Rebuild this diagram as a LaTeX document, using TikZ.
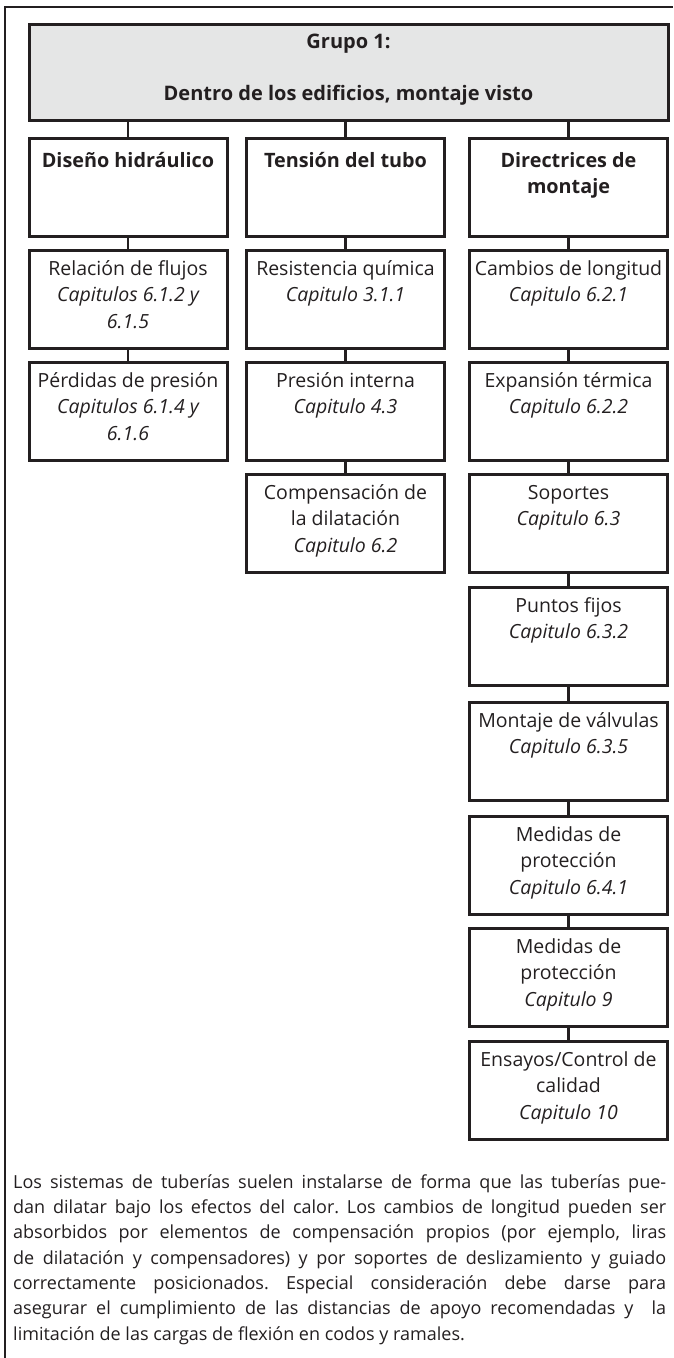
\documentclass[tikz,border=0pt]{standalone}
\usepackage{fontspec}
\setmainfont{Open Sans}
\definecolor{ink}{RGB}{35,31,32}
\definecolor{hdrfill}{RGB}{229,230,230}
\newcommand{\frst}[1][20pt]{\rule{0pt}{#1}}
\begin{document}
\begin{tikzpicture}[x=1pt,y=-1pt,
  boxshape/.style={draw=ink, line width=3pt, minimum width=198pt, minimum height=98pt, inner sep=0pt, outer sep=0pt},
  hdrbox/.style={boxshape, fill=hdrfill, minimum width=639pt, minimum height=96pt},
  boxtext/.style={anchor=north, align=center, inner sep=0pt, text=ink, font=\fontsize{19.5}{26.5}\selectfont},
  headtext/.style={boxtext, font=\fontsize{19.8}{26.5}\selectfont\bfseries},
  toptext/.style={boxtext, font=\fontsize{20}{52}\selectfont\bfseries},
  paratext/.style={anchor=north west, align=left, inner sep=0pt, text=ink, font=\fontsize{18}{25.3}\selectfont\frenchspacing},
  link/.style={draw=ink, line width=2.6pt},
  frameline/.style={draw=ink, line width=1.1pt}]
\useasboundingbox (0,0) rectangle (673,1358);
% outer frame
\draw[frameline] (5,1358) -- (5,7) -- (673,7);
% header
\node[hdrbox] (hdr) at (348.5,72) {};
\node[toptext] (hdrt) at (348.5,28) {\frst Grupo 1:\\ Dentro de los edificios, montaje visto};
% column 1
\node[boxshape] (c1r1) at (128,187) {};
\node[boxshape] (c1r2) at (128,299) {};
\node[boxshape] (c1r3) at (128,411) {};
% column 2
\node[boxshape] (c2r1) at (345.5,187) {};
\node[boxshape] (c2r2) at (345.5,299) {};
\node[boxshape] (c2r3) at (345.5,411) {};
\node[boxshape] (c2r4) at (345.5,523) {};
% column 3
\node[boxshape] (c3r1) at (568.5,187) {};
\node[boxshape] (c3r2) at (568.5,299) {};
\node[boxshape] (c3r3) at (568.5,411) {};
\node[boxshape] (c3r4) at (568.5,523) {};
\node[boxshape] (c3r5) at (568.5,636) {};
\node[boxshape] (c3r6) at (568.5,751) {};
\node[boxshape] (c3r7) at (568.5,865) {};
\node[boxshape] (c3r8) at (568.5,977) {};
\node[boxshape] (c3r9) at (568.5,1090) {};
% texts
\node[headtext] (t11) at ([yshift=-9pt]c1r1.north) {\frst Diseño hidráulico};
\node[boxtext] (t12) at ([yshift=-5pt]c1r2.north) {\frst Relación de flujos\\ \itshape Capitulos 6.1.2 y\\ \itshape 6.1.5};
\node[boxtext] (t13) at ([yshift=-5pt]c1r3.north) {\frst Pérdidas de presión\\ \itshape Capitulos 6.1.4 y\\ \itshape 6.1.6};
\node[headtext] (t21) at ([yshift=-9pt]c2r1.north) {\frst Tensión del tubo};
\node[boxtext] (t22) at ([yshift=-5pt]c2r2.north) {\frst Resistencia química\\ \itshape Capitulo 3.1.1};
\node[boxtext] (t23) at ([yshift=-5pt]c2r3.north) {\frst Presión interna\\ \itshape Capitulo 4.3};
\node[boxtext] (t24) at ([yshift=-5pt]c2r4.north) {\frst Compensación de\\ la dilatación\\ \itshape Capitulo 6.2};
\node[headtext] (t31) at ([yshift=-9pt]c3r1.north) {\frst Directrices de\\ montaje};
\node[boxtext] (t32) at ([yshift=-5pt]c3r2.north) {\frst Cambios de longitud\\ \itshape Capitulo 6.2.1};
\node[boxtext] (t33) at ([yshift=-5pt]c3r3.north) {\frst Expansión térmica\\ \itshape Capitulo 6.2.2};
\node[boxtext] (t34) at ([yshift=-5pt]c3r4.north) {\frst Soportes\\ \itshape Capitulo 6.3};
\node[boxtext] (t35) at ([yshift=-5pt]c3r5.north) {\frst Puntos fijos\\ \itshape Capitulo 6.3.2};
\node[boxtext] (t36) at ([yshift=-5pt]c3r6.north) {\frst Montaje de válvulas\\ \itshape Capitulo 6.3.5};
\node[boxtext] (t37) at ([yshift=-5pt]c3r7.north) {\frst Medidas de\\ protección\\ \itshape Capitulo 6.4.1};
\node[boxtext] (t38) at ([yshift=-5pt]c3r8.north) {\frst Medidas de\\ protección\\ \itshape Capitulo 9};
\node[boxtext] (t39) at ([yshift=-5pt]c3r9.north) {\frst Ensayos/Control de\\ calidad\\ \itshape Capitulo 10};
% connectors
\draw[link] (hdr.south -| c1r1.north) -- (c1r1.north);
\draw[link] (hdr.south -| c2r1.north) -- (c2r1.north);
\draw[link] (hdr.south -| c3r1.north) -- (c3r1.north);
\draw[link] (c1r1.south) -- (c1r2.north);
\draw[link] (c1r2.south) -- (c1r3.north);
\draw[link] (c2r1.south) -- (c2r2.north);
\draw[link] (c2r2.south) -- (c2r3.north);
\draw[link] (c2r3.south) -- (c2r4.north);
\draw[link] (c3r1.south) -- (c3r2.north);
\draw[link] (c3r2.south) -- (c3r3.north);
\draw[link] (c3r3.south) -- (c3r4.north);
\draw[link] (c3r4.south) -- (c3r5.north);
\draw[link] (c3r5.south) -- (c3r6.north);
\draw[link] (c3r6.south) -- (c3r7.north);
\draw[link] (c3r7.south) -- (c3r8.north);
\draw[link] (c3r8.south) -- (c3r9.north);
% paragraph
\node[paratext] (para) at (13,1172) {\frst[16pt]\makebox[653pt][s]{Los sistemas de tuberías suelen instalarse de forma que las tuberías pue-}\\
\makebox[653pt][s]{dan dilatar bajo los efectos del calor. Los cambios de longitud pueden ser}\\
\makebox[653pt][s]{absorbidos por elementos de compensación propios (por ejemplo, liras}\\
\makebox[653pt][s]{de dilatación y compensadores) y por soportes de deslizamiento y guiado}\\
\makebox[653pt][s]{correctamente posicionados. Especial consideración debe darse para}\\
\makebox[653pt][s]{asegurar el cumplimiento de las distancias de apoyo recomendadas y\ \ la}\\
limitación de las cargas de flexión en codos y ramales.};
\end{tikzpicture}
\end{document}
